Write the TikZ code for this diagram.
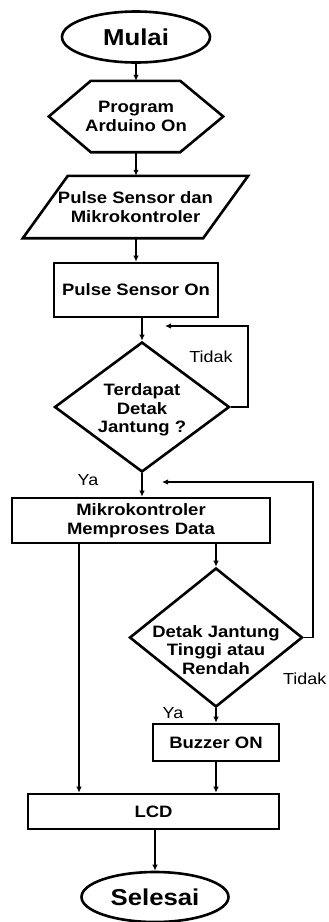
\documentclass[tikz,border=0pt]{standalone}
\usepackage{fontspec}
\setmainfont{Liberation Sans}[FakeStretch=1.12]
\usetikzlibrary{shapes.geometric,arrows.meta,calc}
\begin{document}
\begin{tikzpicture}[x=1pt,y=-1pt,
  shapeline/.style={line width=2.6pt},
  body/.style={font=\fontsize{16.5}{18.5}\selectfont\bfseries, align=center, inner sep=0pt},
  term/.style={ellipse, draw, shapeline, inner sep=0pt, font=\fontsize{23}{25}\selectfont\bfseries},
  boxnode/.style={rectangle, draw, shapeline, body},
  hidden/.style={rectangle, draw=none, body},
  decision/.style={diamond, draw, shapeline, body},
  arr/.style={line width=1.3pt, -{Latex[length=6pt,width=5.5pt]}},
  lbl/.style={font=\fontsize{16}{18}\selectfont, inner sep=0pt}
]
\useasboundingbox (0,0) rectangle (329,922);
\fill[white] (0,0) rectangle (329,922);

% nodes
\node[term, minimum width=148pt, minimum height=51pt] (mulai) at (136,37) {Mulai};
\node[hidden, minimum width=174pt, minimum height=71pt] (hex) at (136,116.5) {Program\\Arduino On};
\draw[shapeline, line join=miter] (hex.west) -- ([xshift=42pt]hex.north west) -- ([xshift=-43pt]hex.north east) -- (hex.east) -- ([xshift=-43pt]hex.south east) -- ([xshift=42pt]hex.south west) -- cycle;
\node[hidden, minimum width=225pt, minimum height=62pt] (para) at (135.5,207) {Pulse Sensor dan\\Mikrokontroler};
\draw[shapeline] ([xshift=45pt]para.north west) -- (para.north east) -- ([xshift=-45pt]para.south east) -- (para.south west) -- cycle;
\node[boxnode, minimum width=164pt, minimum height=54pt] (pso) at (136,290) {Pulse Sensor On};
\node[decision, minimum width=175pt, minimum height=130pt] (d1) at (142,407) {};
\node[hidden] (d1t) at (142,410) {Terdapat\\Detak\\Jantung ?};
\node[boxnode, minimum width=258pt, minimum height=45pt] (mk) at (141,520.5) {Mikrokontroler\\Memproses Data};
\node[decision, minimum width=173pt, minimum height=139pt] (d2) at (216,637.5) {};
\node[hidden] (d2t) at (216,650) {Detak Jantung\\Tinggi atau\\Rendah};
\node[boxnode, minimum width=126pt, minimum height=37pt] (buz) at (216,742.5) {Buzzer ON};
\node[boxnode, minimum width=251pt, minimum height=35pt] (lcd) at (153.5,811.5) {LCD};
\node[term, minimum width=147pt, minimum height=50pt] (sel) at (155,897) {Selesai};

% helper coordinates
\coordinate (t1) at (248,326);
\coordinate (t2) at (165,326);
\coordinate (r1) at (313,482);
\coordinate (r2) at (162,482);
\coordinate (c79) at (79,0);

% connectors
\draw[arr] (mulai.south) -- (hex.north);
\draw[arr] (hex.south) -- (hex.south |- para.north);
\draw[arr] (para.south -| pso.north) -- (pso.north);
\draw[arr] (pso.south -| d1.north) -- (d1.north);
\draw[arr] (d1.east) -| (t1) -- (t2);
\draw[arr] (d1.south) -- (d1.south |- mk.north);
\draw[arr] (mk.south -| d2.north) -- (d2.north);
\draw[arr] (d2.east) -| (r1) -- (r2);
\draw[arr] (d2.south) -- (buz.north);
\draw[arr] (buz.south) -- (buz.south |- lcd.north);
\draw[arr] (c79 |- mk.south) -- (c79 |- lcd.north);
\draw[arr] (lcd.south -| sel.north) -- (sel.north);

% labels
\node[lbl] (tidak1) at (211,357) {Tidak};
\node[lbl] (ya1) at (88,480) {Ya};
\node[lbl, anchor=west] (tidak2) at (283,679) {Tidak};
\node[lbl] (ya2) at (173,713) {Ya};
\end{tikzpicture}
\end{document}
